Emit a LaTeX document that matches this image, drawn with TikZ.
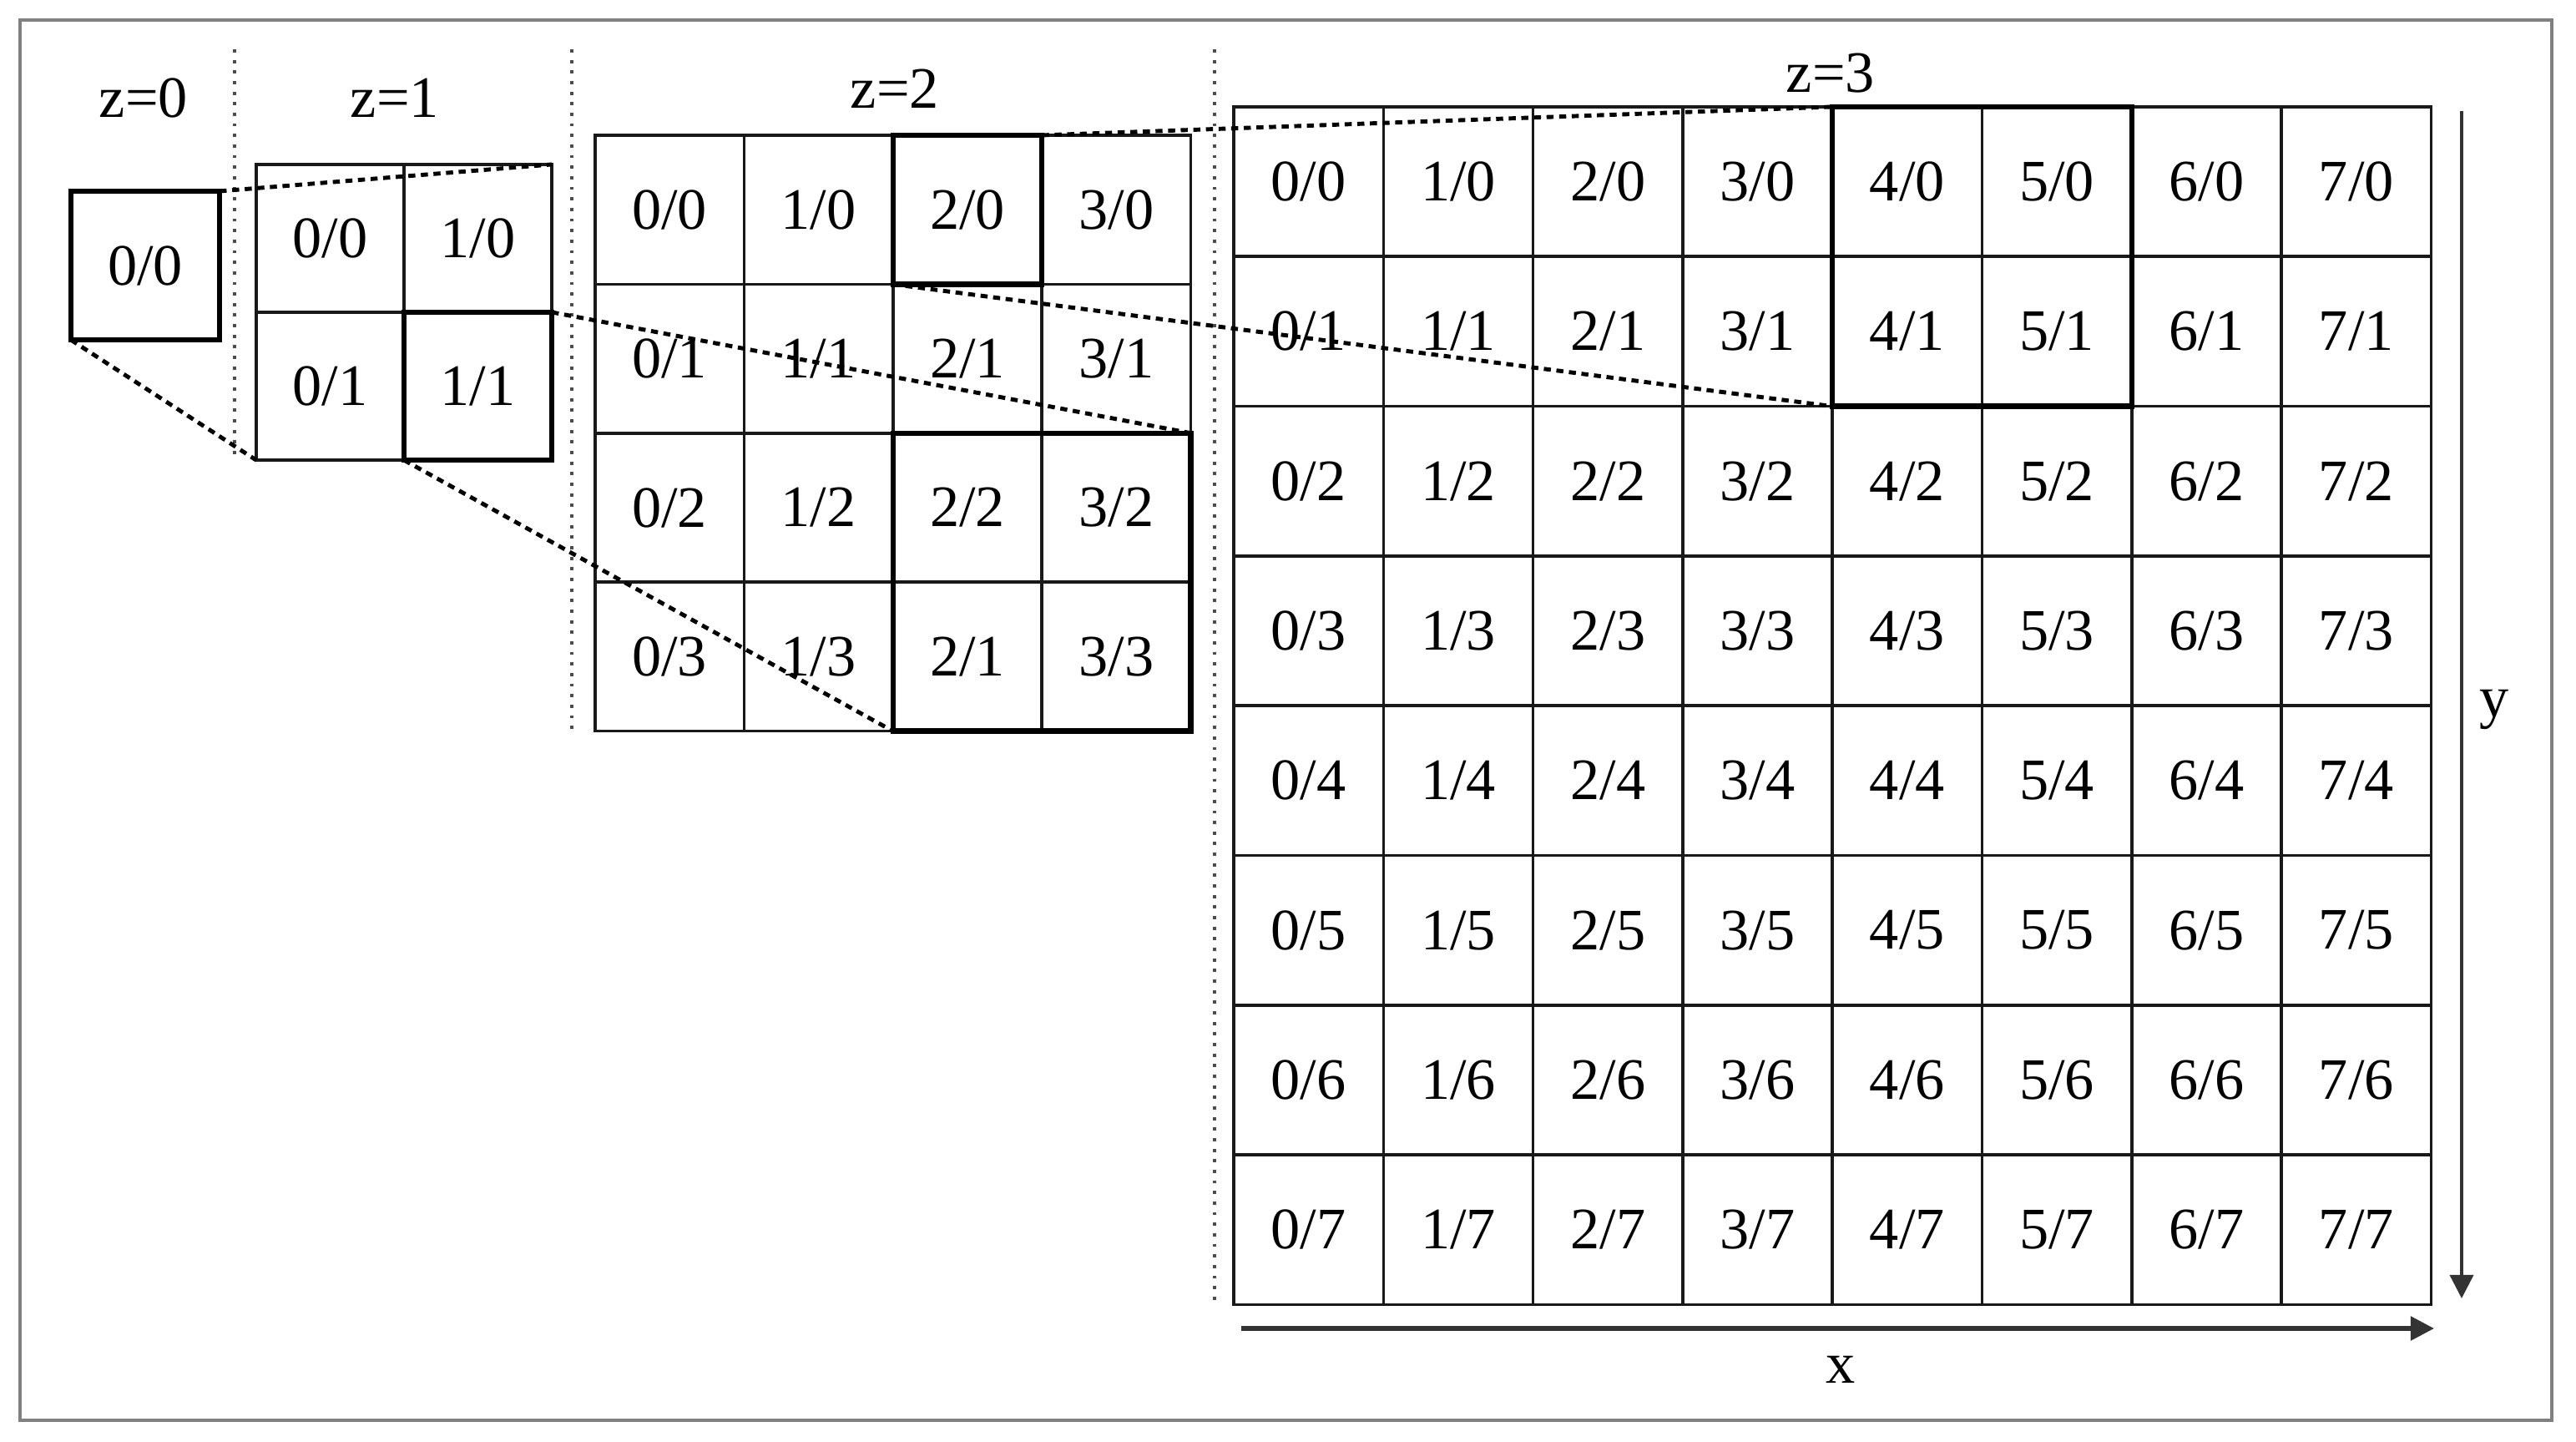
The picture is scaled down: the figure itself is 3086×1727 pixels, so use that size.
\documentclass[tikz,border=0pt]{standalone}
\usepackage{fontspec}
\setmainfont{Liberation Serif}
\usetikzlibrary{arrows.meta}
\begin{document}
\begin{tikzpicture}[x=0.01cm,y=0.01cm,
  cell/.style={draw=black!90, line width=1pt, inner sep=0pt, outer sep=0pt,
    font=\fontsize{20}{24}\selectfont, text=black},
  boldbox/.style={draw=black, line width=1.8pt},
  conn/.style={draw=black, line width=1.4pt, dash pattern=on 2.4pt off 1.9pt},
  sep/.style={draw=black!70, line width=1.2pt, dash pattern=on 1.1pt off 2.5pt},
  axis/.style={draw=black!80, -{Triangle[length=8pt,width=8pt]}},
  lab/.style={font=\fontsize{20}{24}\selectfont, text=black, inner sep=0pt}]
\useasboundingbox (0,0) rectangle (3086,-1727);
% frame
\draw[draw=black!50, line width=1.3pt] (24,-24) rectangle (3057,-1701);
% separators
\draw[sep] (281,-59) -- (281,-548);
\draw[sep] (685,-59) -- (685,-873);
\draw[sep] (1455,-59) -- (1455,-1557);
% level titles
\node[lab] (t0) at (172,-117) {z=0};
\node[lab] (t1) at (473,-117) {z=1};
\node[lab] (t2) at (1072,-106) {z=2};
\node[lab] (t3) at (2193,-88) {z=3};
% z=0
\node[cell, minimum size=1.78cm, boldbox] (z0) at (174,-318) {0/0};
% z=1
\foreach \i in {0,1} \foreach \j in {0,1}
  \node[cell, minimum size=1.77cm] (a-\i-\j) at ({307+(\i+0.5)*177},{-(197+(\j+0.5)*177)}) {\i/\j};
% z=2
\foreach \i in {0,...,3} \foreach \j in {0,...,3}{
  \ifnum\numexpr\i*10+\j\relax=23 \def\lab{2/1}\else\def\lab{\i/\j}\fi
  \node[cell, minimum size=1.784cm] (b-\i-\j) at ({713+(\i+0.5)*178.4},{-(162+(\j+0.5)*178.4)}) {\lab};
}
% z=3
\foreach \i in {0,...,7} \foreach \j in {0,...,7}
  \node[cell, minimum size=1.793cm] (c-\i-\j) at ({1478+(\i+0.5)*179.3},{-(128+(\j+0.5)*179.3)}) {\i/\j};
% bold blocks
\draw[boldbox] (a-1-1.north west) rectangle (a-1-1.south east);
\draw[boldbox] (b-2-0.north west) rectangle (b-2-0.south east);
\draw[boldbox] (b-2-2.north west) rectangle (b-3-3.south east);
\draw[boldbox] (c-4-0.north west) rectangle (c-5-1.south east);
% connectors
\draw[conn] (z0.north east) -- (a-1-0.north east);
\draw[conn] (z0.south west) -- (a-0-1.south west);
\draw[conn] (a-1-1.north east) -- (b-3-2.north east);
\draw[conn] (a-1-1.south west) -- (b-2-3.south west);
\draw[conn] (b-2-0.north east) -- (c-4-0.north west);
\draw[conn] (b-2-0.south west) -- (c-4-1.south west);
% axes
\coordinate (ys) at (2949,-133);
\coordinate (ye) at (2949,-1555);
\coordinate (xs) at (1487,-1591);
\coordinate (xe) at (2916,-1591);
\draw[axis, line width=1pt] (ys) -- (ye);
\draw[axis, line width=1.5pt] (xs) -- (xe);
\node[lab] (xl) at (2205,-1640) {x};
\node[lab] (yl) at (2988,-850) {y};
\end{tikzpicture}
\end{document}
